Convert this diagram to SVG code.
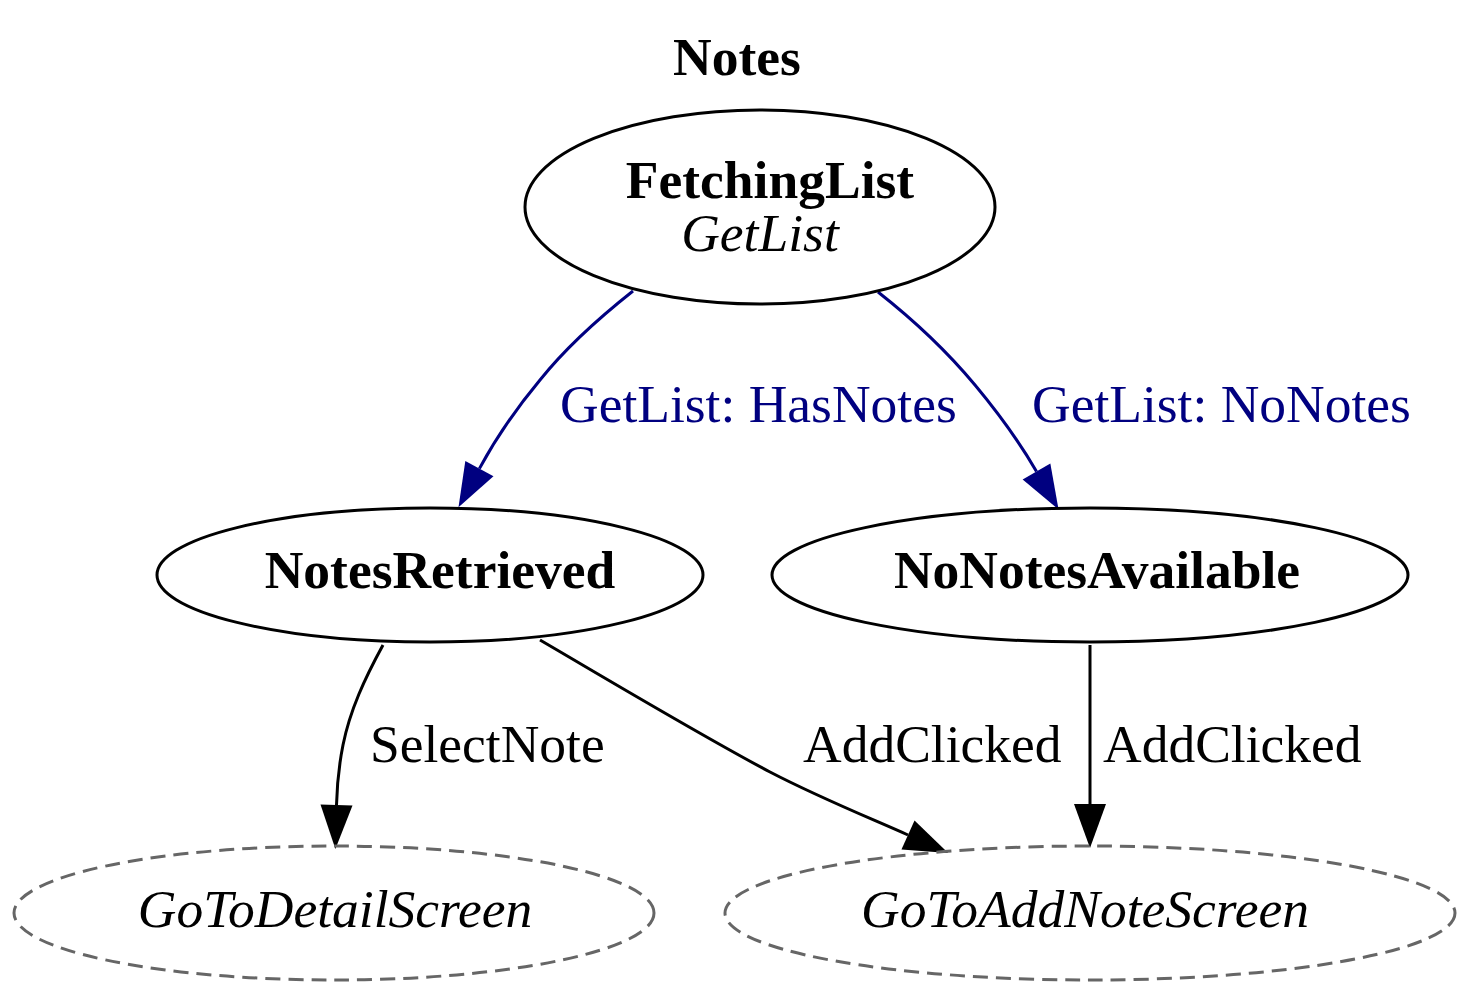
<svg xmlns="http://www.w3.org/2000/svg" width="1471" height="1000" viewBox="0 0 1471 1000">
<style>
text{font-family:"Liberation Serif","Times New Roman",serif;font-size:53.5px;fill:#000}
.b{font-weight:bold}
.i{font-style:italic}
.state{fill:none;stroke:#000;stroke-width:3}
.action{fill:none;stroke:#666;stroke-width:3;stroke-dasharray:15,8}
.edge{fill:none;stroke:#000;stroke-width:3}
.nav{stroke:#000080}
.navt{fill:#000080}
</style>
<defs>
<marker id="ah" markerUnits="userSpaceOnUse" markerWidth="46" markerHeight="34" refX="0" refY="16" orient="auto" overflow="visible"><path d="M0,0 L44,16 L0,32 z" fill="#000"/></marker>
<marker id="ahn" markerUnits="userSpaceOnUse" markerWidth="46" markerHeight="34" refX="0" refY="16" orient="auto" overflow="visible"><path d="M0,0 L44,16 L0,32 z" fill="#000080"/></marker>
</defs>
<rect width="1471" height="1000" fill="#fff"/>
<text class="b" x="737" y="75" text-anchor="middle">Notes</text>
<g id="edges">
<path class="edge nav" d="M633,291 C590,325 560,355 540,380 C515,410 497,436 479.4,468.6" marker-end="url(#ahn)"/>
<text class="navt" x="560" y="422">GetList: HasNotes</text>
<path class="edge nav" d="M878,292 C920,325 950,355 975,385 C1000,415 1020,443 1036.5,471.5" marker-end="url(#ahn)"/>
<text class="navt" x="1032" y="422">GetList: NoNotes</text>
<path class="edge" d="M383,645 C365,678 350,710 343,745 C339,765 337,785 336.5,805" marker-end="url(#ah)"/>
<text x="370" y="762">SelectNote</text>
<path class="edge" d="M540,640 C600,675 700,735 770,772 C820,798 870,818 908,835" marker-end="url(#ah)"/>
<text x="803" y="762">AddClicked</text>
<path class="edge" d="M1090,645 L1090,804" marker-end="url(#ah)"/>
<text x="1103" y="762">AddClicked</text>
</g>
<g id="FetchingList">
<ellipse class="state" cx="760" cy="207" rx="235" ry="97"/>
<text class="b" x="770" y="198" text-anchor="middle">FetchingList</text>
<text class="i" x="760" y="251" text-anchor="middle">GetList</text>
</g>
<g id="NotesRetrieved">
<ellipse class="state" cx="430" cy="575" rx="273" ry="67"/>
<text class="b" x="440" y="588" text-anchor="middle">NotesRetrieved</text>
</g>
<g id="NoNotesAvailable">
<ellipse class="state" cx="1090" cy="575" rx="318" ry="67"/>
<text class="b" x="1097" y="588" text-anchor="middle">NoNotesAvailable</text>
</g>
<g id="GoToDetailScreen">
<ellipse class="action" cx="334" cy="913" rx="320" ry="67"/>
<text class="i" x="335" y="927" text-anchor="middle">GoToDetailScreen</text>
</g>
<g id="GoToAddNoteScreen">
<ellipse class="action" cx="1090" cy="913" rx="365" ry="67"/>
<text class="i" x="1085" y="927" text-anchor="middle">GoToAddNoteScreen</text>
</g>
</svg>
